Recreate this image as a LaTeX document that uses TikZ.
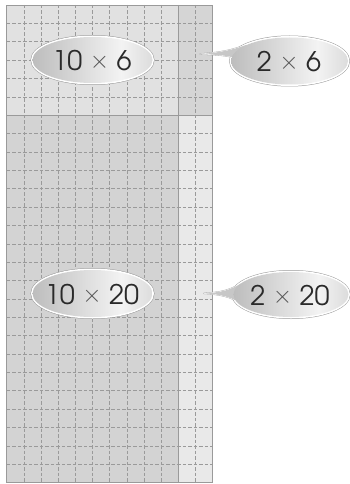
\documentclass[tikz,border=0pt]{standalone}
\usepackage{fontspec}
\setmainfont{TeX Gyre Adventor}
\definecolor{cTL}{HTML}{E1E1E1}
\definecolor{cTR}{HTML}{D5D5D5}
\definecolor{cBL}{HTML}{D3D3D3}
\definecolor{cBR}{HTML}{E9E9E9}
\definecolor{gridc}{HTML}{9A9A9A}
\definecolor{edgec}{HTML}{9A9A9A}
\definecolor{bubL}{HTML}{BDBDBD}
\definecolor{bubM}{HTML}{F3F3F3}
\definecolor{bubR}{HTML}{DCDCDC}
\definecolor{txt}{HTML}{2A2A2A}
\definecolor{timesc}{HTML}{555555}
\pgfdeclarehorizontalshading{bub}{100bp}{color(0bp)=(bubL); color(25bp)=(bubL); color(62bp)=(bubM); color(75bp)=(bubR); color(100bp)=(bubR)}
\newcommand{\mytimes}{\raisebox{2.5pt}{\textcolor{timesc}{$\times$}}}
\begin{document}
\begin{tikzpicture}[x=1pt,y=-1pt,
  gridline/.style={draw=gridc,line width=0.55pt,dash pattern=on 3.5pt off 2pt},
  solidline/.style={draw=edgec,line width=0.7pt},
  outerring/.style={draw=edgec,line width=4pt},
  innerring/.style={draw=white,line width=3pt},
  bubfill/.style={shading=bub},
  tailfill/.style={fill=bubL!85!white},
  lbl/.style={font=\fontsize{27}{27}\selectfont,text=txt,inner sep=0pt}]
\useasboundingbox (0,0) rectangle (349,484);
\def\xo{6.8}\def\cw{17.14}\def\yo{5}\def\rh{18.37}
% regions
\fill[cTL] (\xo,\yo) rectangle ({\xo+10*\cw},{\yo+6*\rh});
\fill[cTR] ({\xo+10*\cw},\yo) rectangle ({\xo+12*\cw},{\yo+6*\rh});
\fill[cBL] (\xo,{\yo+6*\rh}) rectangle ({\xo+10*\cw},{\yo+26*\rh});
\fill[cBR] ({\xo+10*\cw},{\yo+6*\rh}) rectangle ({\xo+12*\cw},{\yo+26*\rh});
% dashed grid
\foreach \i in {1,...,9,11}
  \draw[gridline] ({\xo+\i*\cw},\yo) -- ({\xo+\i*\cw},{\yo+26*\rh});
\foreach \j in {1,...,5,7,8,...,25}
  \draw[gridline] (\xo,{\yo+\j*\rh}) -- ({\xo+12*\cw},{\yo+\j*\rh});
% solid boundaries
\draw[solidline] ({\xo+10*\cw},\yo) -- ({\xo+10*\cw},{\yo+26*\rh});
\draw[solidline] (\xo,{\yo+6*\rh}) -- ({\xo+12*\cw},{\yo+6*\rh});
\draw[solidline] (\xo,\yo) rectangle ({\xo+12*\cw},{\yo+26*\rh});
% tips
\coordinate (tipA) at (200,54);
\coordinate (tipB) at (204,293.3);
% outer rings
\draw[outerring] (92.5,60) ellipse [x radius=60,y radius=23];
\draw[outerring] (92.5,293.5) ellipse [x radius=60,y radius=23.5];
\draw[outerring] (289.5,61) ellipse [x radius=58.5,y radius=23.5];
\draw[outerring] (291,294.5) ellipse [x radius=57.5,y radius=22.5];
\draw[outerring,line width=1.4pt,line join=round] (tipA) .. controls (222,52.5) and (232,50) .. (246,45) -- (260,61) -- (231.5,57) .. controls (224,55) and (212,54.5) .. (tipA) -- cycle;
\draw[outerring,line width=1.4pt,line join=round] (tipB) .. controls (222,292.5) and (230,290) .. (241,283.5) -- (260,295) -- (234.5,300) .. controls (228,296) and (216,294) .. (tipB) -- cycle;
% inner white rings
\draw[innerring] (92.5,60) ellipse [x radius=60,y radius=23];
\draw[innerring] (92.5,293.5) ellipse [x radius=60,y radius=23.5];
\draw[innerring] (289.5,61) ellipse [x radius=58.5,y radius=23.5];
\draw[innerring] (291,294.5) ellipse [x radius=57.5,y radius=22.5];
\draw[innerring,line width=0.8pt,line join=round] (tipA) .. controls (222,52.5) and (232,50) .. (246,45) -- (260,61) -- (231.5,57) .. controls (224,55) and (212,54.5) .. (tipA) -- cycle;
\draw[innerring,line width=0.8pt,line join=round] (tipB) .. controls (222,292.5) and (230,290) .. (241,283.5) -- (260,295) -- (234.5,300) .. controls (228,296) and (216,294) .. (tipB) -- cycle;
% fills
\fill[tailfill] (tipA) .. controls (222,52.5) and (232,50) .. (246,45) -- (260,61) -- (231.5,57) .. controls (224,55) and (212,54.5) .. (tipA) -- cycle;
\fill[tailfill] (tipB) .. controls (222,292.5) and (230,290) .. (241,283.5) -- (260,295) -- (234.5,300) .. controls (228,296) and (216,294) .. (tipB) -- cycle;
\shade[bubfill] (92.5,60) ellipse [x radius=60,y radius=23];
\shade[bubfill] (92.5,293.5) ellipse [x radius=60,y radius=23.5];
\shade[bubfill] (289.5,61) ellipse [x radius=58.5,y radius=23.5];
\shade[bubfill] (291,294.5) ellipse [x radius=57.5,y radius=22.5];
% labels
\node[lbl] (l1) at (92,61) {10 \mytimes{} 6};
\node[lbl] (l2) at (289,62) {2 \mytimes{} 6};
\node[lbl] (l3) at (92,295) {10 \mytimes{} 20};
\node[lbl] (l4) at (290,296) {2 \mytimes{} 20};
\end{tikzpicture}
\end{document}
